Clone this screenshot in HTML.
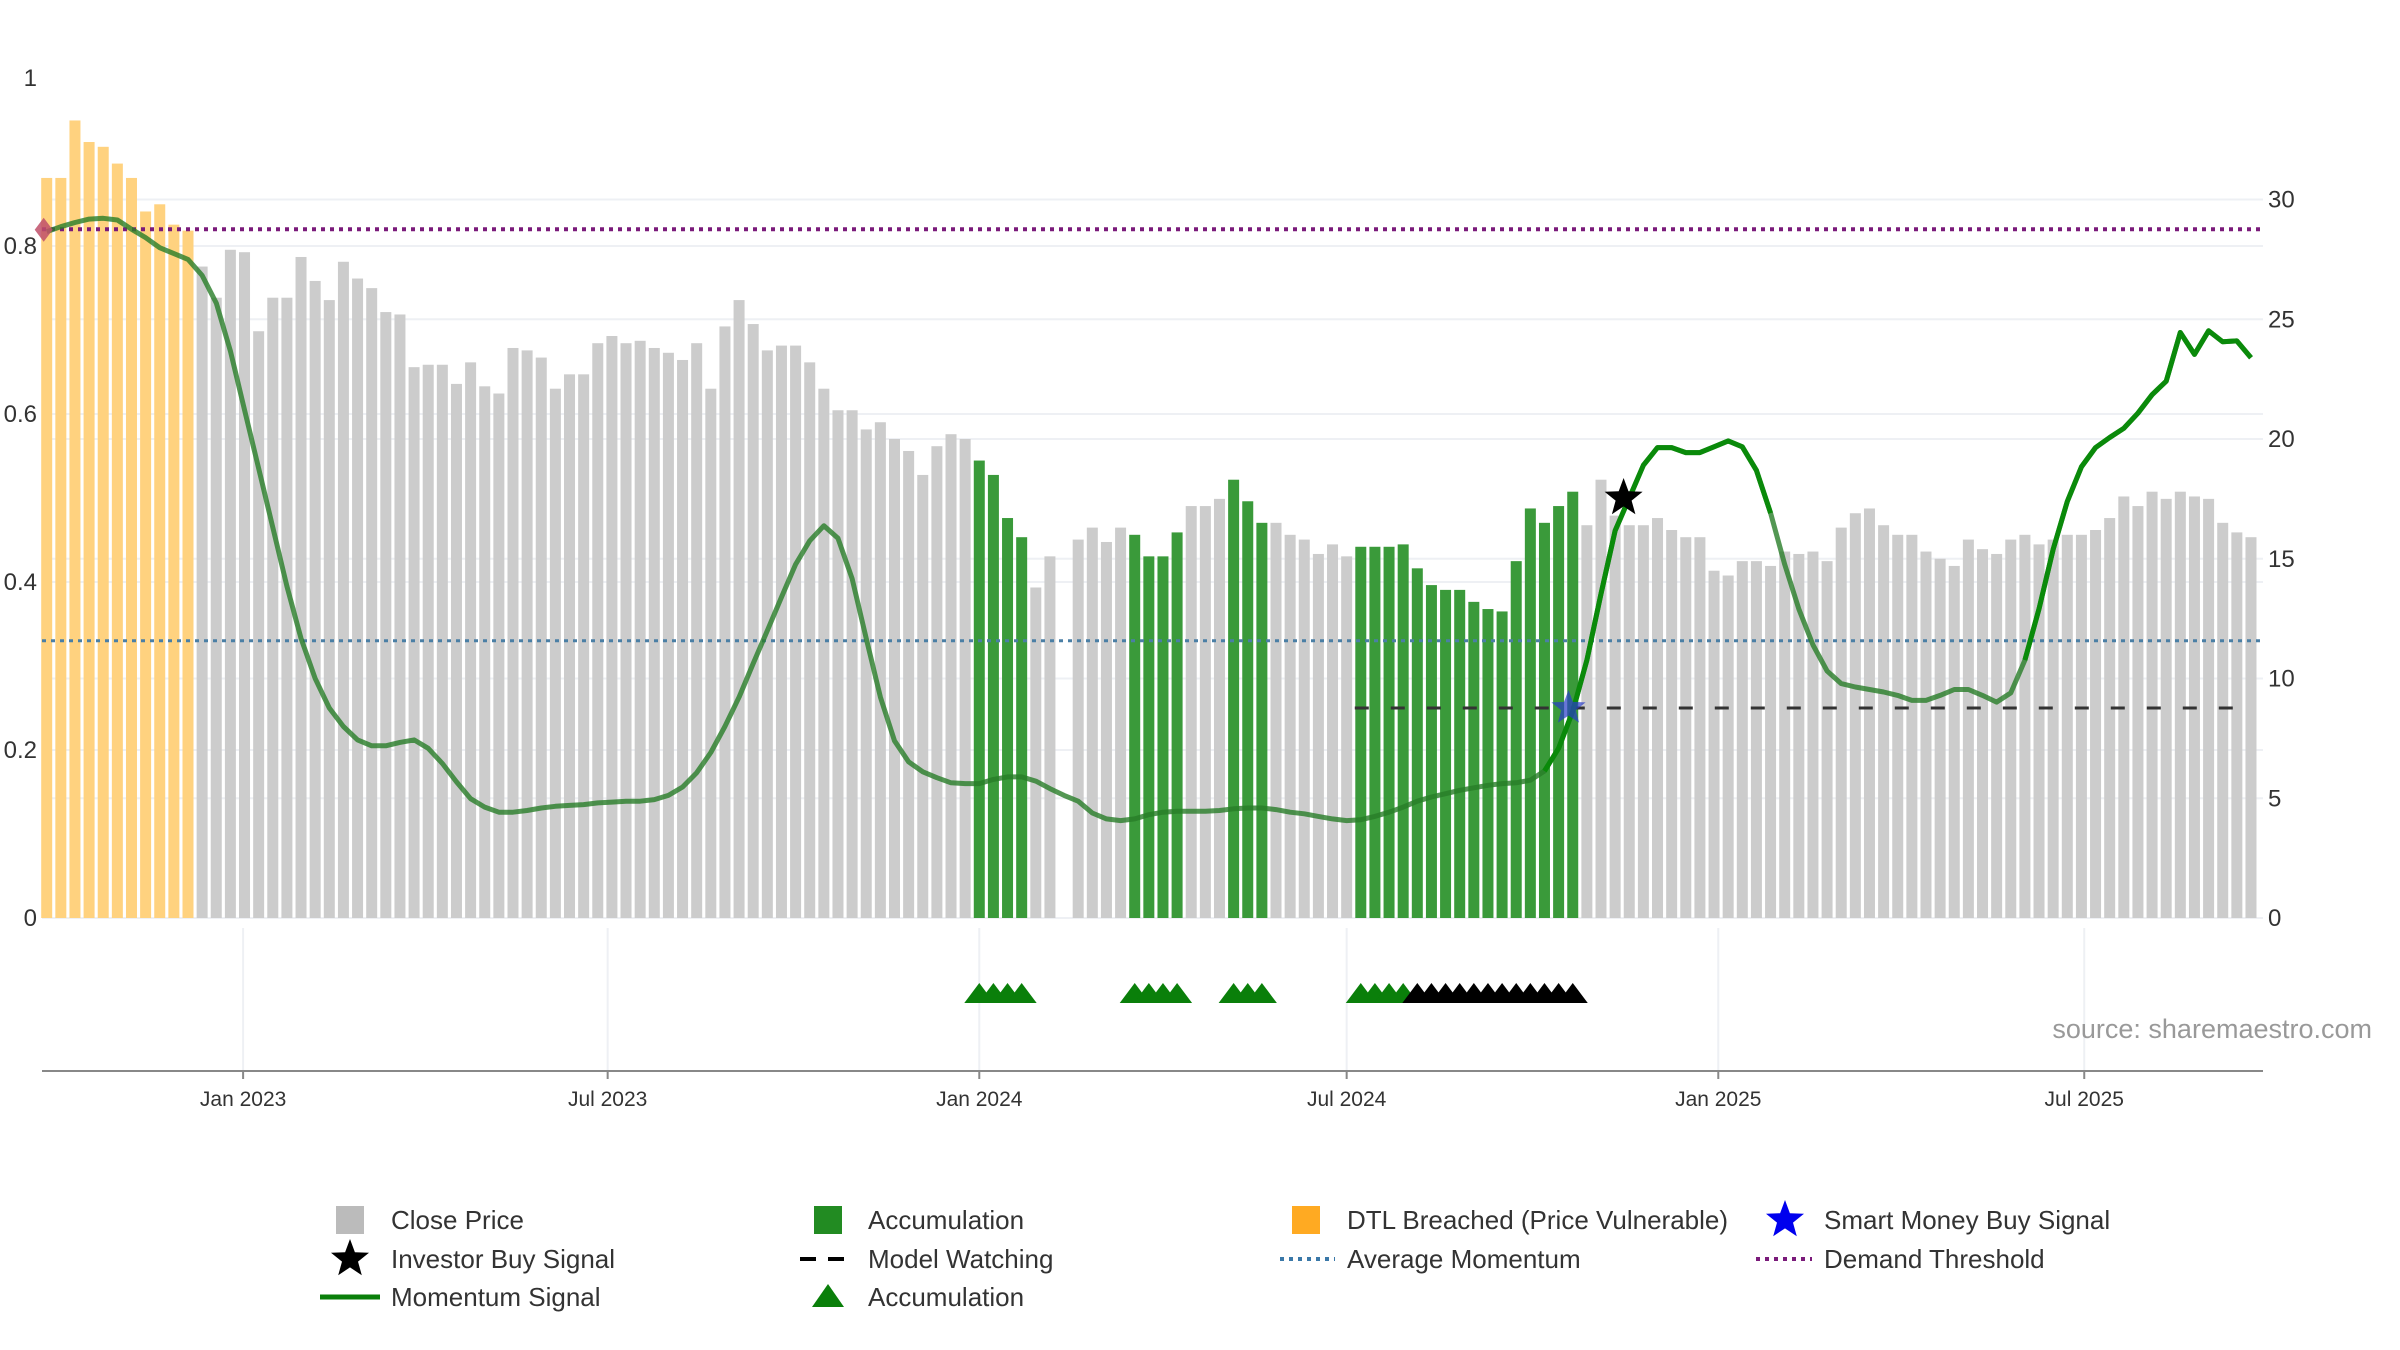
<!DOCTYPE html>
<html><head><meta charset="utf-8"><style>
body{margin:0;background:#fff;}
svg{display:block;font-family:"Liberation Sans","DejaVu Sans",sans-serif;}
</style></head><body>
<svg id="chart" width="2400" height="1350" viewBox="0 0 2400 1350" xmlns="http://www.w3.org/2000/svg">
<g id="grid"></g>
<g id="bars"></g>
<g id="lines"></g>
<g id="mom"></g>
<g id="marks"></g>
<g id="axes"></g>
<text x="2372" y="1038" text-anchor="end" font-size="27" fill="#999">source: sharemaestro.com</text>
<g id="legend"></g>
</svg>
<script>
const prices=[30.9,30.9,33.3,32.4,32.2,31.5,30.9,29.5,29.8,28.95,28.7,27.2,25.9,27.9,27.8,24.5,25.9,25.9,27.6,26.6,25.8,27.4,26.7,26.3,25.3,25.2,23.0,23.1,23.1,22.3,23.2,22.2,21.9,23.8,23.7,23.4,22.1,22.7,22.7,24.0,24.3,24.0,24.1,23.8,23.6,23.3,24.0,22.1,24.7,25.8,24.8,23.7,23.9,23.9,23.2,22.1,21.2,21.2,20.4,20.7,20.0,19.5,18.5,19.7,20.2,20.0,19.1,18.5,16.7,15.9,13.8,15.1,null,15.8,16.3,15.7,16.3,16.0,15.1,15.1,16.1,17.2,17.2,17.5,18.3,17.4,16.5,16.5,16.0,15.8,15.2,15.6,15.1,15.5,15.5,15.5,15.6,14.6,13.9,13.7,13.7,13.2,12.9,12.8,14.9,17.1,16.5,17.2,17.8,16.4,18.3,16.8,16.4,16.4,16.7,16.2,15.9,15.9,14.5,14.3,14.9,14.9,14.7,15.3,15.2,15.3,14.9,16.3,16.9,17.1,16.4,16.0,16.0,15.3,15.0,14.7,15.8,15.4,15.2,15.8,16.0,15.6,15.8,16.0,16.0,16.2,16.7,17.6,17.2,17.8,17.5,17.8,17.6,17.5,16.5,16.1,15.9];
const momentum=[0.817,0.823,0.828,0.832,0.833,0.831,0.820,0.810,0.798,0.791,0.784,0.765,0.732,0.675,0.605,0.535,0.465,0.395,0.333,0.285,0.25,0.228,0.212,0.205,0.205,0.209,0.212,0.202,0.184,0.162,0.142,0.132,0.126,0.126,0.128,0.131,0.133,0.134,0.135,0.137,0.138,0.139,0.139,0.141,0.146,0.156,0.173,0.197,0.228,0.263,0.303,0.342,0.382,0.421,0.449,0.467,0.452,0.404,0.333,0.263,0.211,0.186,0.174,0.167,0.161,0.160,0.160,0.165,0.168,0.168,0.163,0.154,0.146,0.139,0.125,0.118,0.116,0.118,0.123,0.126,0.127,0.127,0.127,0.128,0.130,0.131,0.131,0.129,0.126,0.124,0.121,0.118,0.116,0.117,0.121,0.126,0.132,0.139,0.144,0.148,0.152,0.155,0.158,0.160,0.161,0.164,0.175,0.202,0.246,0.307,0.386,0.461,0.5,0.539,0.560,0.560,0.554,0.554,0.561,0.568,0.561,0.533,0.482,0.421,0.368,0.325,0.294,0.279,0.275,0.272,0.269,0.265,0.259,0.259,0.265,0.272,0.272,0.265,0.257,0.268,0.307,0.368,0.439,0.496,0.537,0.560,0.572,0.583,0.601,0.623,0.639,0.697,0.671,0.699,0.686,0.687,0.667];
const orangeBars=[0,10];
const accumRanges=[[66,69],[77,80],[84,86],[93,108]];
const greenTriangles=[66,67,68,69,77,78,79,80,84,85,86,93,94,95,96];
const blackTriangles=[97,98,99,100,101,102,103,104,105,106,107,108];
const brightRanges=[[106,122],[140,156]];
const demandThreshold=0.82, avgMomentum=0.33, watchLevel=0.25, watchStart=93;
const smartMoney={i:107.7,v:0.25}, investor={i:111.6,v:0.5};
const leftTicks=[0,0.2,0.4,0.6,0.8,1];
const rightTicks=[0,5,10,15,20,25,30];
const dateTicks=["Jan 2023","Jul 2023","Jan 2024","Jul 2024","Jan 2025","Jul 2025"];
const dateTickIdx=[13.9,39.7,66.0,92.0,118.3,144.2];

const NS="http://www.w3.org/2000/svg";
const X0=42,X1=2263,Y0=918;
const xi=i=>46.7+14.13*i;
const yl=v=>Y0-v*840;
const yr=v=>Y0-v*23.95;
function mk(tag,attrs,parent){const e=document.createElementNS(NS,tag);for(const k in attrs)e.setAttribute(k,attrs[k]);parent.appendChild(e);return e;}
const G=id=>document.getElementById(id);
rightTicks.forEach(t=>{const l=mk('line',{x1:X0,x2:X1,y1:yr(t),y2:yr(t),stroke:'#eef0f4','stroke-width':2},G('grid'));

});
leftTicks.filter(t=>t<1).forEach(t=>{const l=mk('line',{x1:X0,x2:X1,y1:yl(t),y2:yl(t),stroke:'#eef0f4','stroke-width':2},G('grid'));

});
dateTickIdx.forEach(d=>{const l=mk('line',{x1:xi(d),x2:xi(d),y1:928,y2:1071,stroke:'#eef0f4','stroke-width':2},G('grid'));

});
const isAcc=i=>accumRanges.some(r=>i>=r[0]&&i<=r[1]);
prices.forEach((p,i)=>{if(p==null)return;
const c=(i>=orangeBars[0]&&i<=orangeBars[1])?'#ffd27f':isAcc(i)?'#3a9a3a':'#cccccc';
const r=mk('rect',{x:xi(i)-5.5,y:yr(p),width:11,height:Y0-yr(p),fill:c},G('bars'));

});
let l;
l=mk('line',{x1:X0,x2:X1,y1:yl(demandThreshold),y2:yl(demandThreshold),stroke:'#7a1a7a','stroke-width':4,'stroke-dasharray':'4 5'},G('lines'));


l=mk('line',{x1:X0,x2:X1,y1:yl(avgMomentum),y2:yl(avgMomentum),stroke:'#4a7fa5','stroke-width':3,'stroke-dasharray':'4 5'},G('lines'));


l=mk('line',{x1:xi(watchStart)-6,x2:xi(prices.length-1)-8,y1:yl(watchLevel),y2:yl(watchLevel),stroke:'#333','stroke-width':3,'stroke-dasharray':'14 22'},G('lines'));


const pts=momentum.map((v,i)=>xi(i).toFixed(1)+','+yl(v).toFixed(1));
l=mk('polyline',{points:pts.join(' '),fill:'none',stroke:'rgb(40,125,40)','stroke-opacity':0.8,'stroke-width':5,'stroke-linejoin':'round'},G('mom'));


brightRanges.forEach(r=>{const s=mk('polyline',{points:pts.slice(r[0],r[1]+1).join(' '),fill:'none',stroke:'#0a8a0a','stroke-width':5,'stroke-linejoin':'round'},G('mom'));

});
l=mk('path',{d:`M${xi(0)-3} ${yl(momentum[0])-14} l9 12 l-9 12 l-9 -12z`,fill:'#c0506a',opacity:0.85},G('marks'));


function star(cx,cy,R,fill,parent){let d='';for(let k=0;k<10;k++){const a=-Math.PI/2+k*Math.PI/5,r=k%2?R*0.42:R;d+=(k?'L':'M')+(cx+r*Math.cos(a)).toFixed(1)+' '+(cy+r*Math.sin(a)).toFixed(1);}
return mk('path',{d:d+'Z',fill:fill},parent||G('marks'));}
let s=star(xi(smartMoney.i),yl(smartMoney.v),18,'rgba(40,60,200,0.7)');


s=star(xi(investor.i),yl(investor.v),20,'#000');


function tri(i,c){const x=xi(i),y=1003;return mk('path',{d:`M${x-15} ${y} L${x} ${y-20} L${x+15} ${y}Z`,fill:c},G('marks'));}
greenTriangles.forEach(i=>{const t=tri(i,'#0a7f0a');

});
blackTriangles.forEach(i=>{const t=tri(i,'#000');

});
l=mk('line',{x1:X0,x2:X1,y1:1071,y2:1071,stroke:'#888','stroke-width':2},G('axes'));


leftTicks.forEach(t=>{const e=mk('text',{x:37,y:yl(t)+8,'text-anchor':'end','font-size':24,fill:'#333'},G('axes'));e.textContent=String(t);

});
rightTicks.forEach(t=>{const e=mk('text',{x:2268,y:yr(t)+8,'font-size':24,fill:'#333'},G('axes'));e.textContent=String(t);

});
dateTicks.forEach((d,k)=>{const x=xi(dateTickIdx[k]);
const tk=mk('line',{x1:x,x2:x,y1:1071,y2:1079,stroke:'#888','stroke-width':2},G('axes'));


const e=mk('text',{x:x,y:1106,'text-anchor':'middle','font-size':21,fill:'#333'},G('axes'));e.textContent=d;

});
const LG=G('legend');
function ltext(x,y,t){const e=mk('text',{x:x,y:y+9,'font-size':26,fill:'#333'},LG);e.textContent=t;

}
const r1=1220,r2=1259,r3=1297;
let e;
e=mk('rect',{x:336,y:r1-14,width:28,height:28,fill:'#bbb'},LG);ltext(391,r1,'Close Price');
e=mk('rect',{x:814,y:r1-14,width:28,height:28,fill:'#228b22'},LG);ltext(868,r1,'Accumulation');
e=mk('rect',{x:1292,y:r1-14,width:28,height:28,fill:'#ffaa22'},LG);ltext(1347,r1,'DTL Breached (Price Vulnerable)');
s=star(1785,r1,20,'#0000ee',LG);ltext(1824,r1,'Smart Money Buy Signal');
s=star(350,r2,20,'#000',LG);ltext(391,r2,'Investor Buy Signal');
e=mk('line',{x1:800,x2:856,y1:r2,y2:r2,stroke:'#000','stroke-width':4,'stroke-dasharray':'16 12'},LG);ltext(868,r2,'Model Watching');
e=mk('line',{x1:1280,x2:1335,y1:r2,y2:r2,stroke:'#3a78a8','stroke-width':4,'stroke-dasharray':'4 5'},LG);ltext(1347,r2,'Average Momentum');
e=mk('line',{x1:1756,x2:1812,y1:r2,y2:r2,stroke:'#7a1a7a','stroke-width':4,'stroke-dasharray':'4 5'},LG);ltext(1824,r2,'Demand Threshold');
e=mk('line',{x1:320,x2:380,y1:r3,y2:r3,stroke:'#0a7f0a','stroke-width':5},LG);ltext(391,r3,'Momentum Signal');
e=mk('path',{d:`M812 ${r3+10} L828 ${r3-13} L844 ${r3+10}Z`,fill:'#0a7f0a'},LG);ltext(868,r3,'Accumulation');
</script>
</body></html>
